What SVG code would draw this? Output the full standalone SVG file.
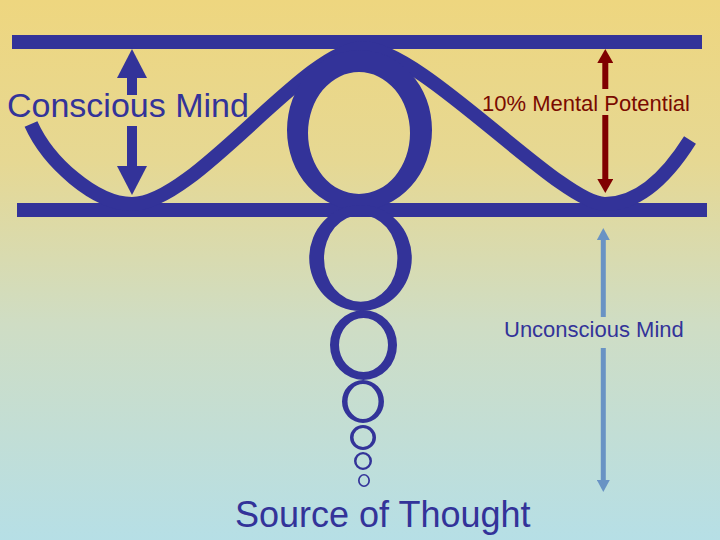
<svg xmlns="http://www.w3.org/2000/svg" width="720" height="540" viewBox="0 0 720 540">
  <defs>
    <linearGradient id="bg" x1="0" y1="0" x2="0" y2="1">
      <stop offset="0" stop-color="#EED67F"/>
      <stop offset="0.3" stop-color="#E6D893"/>
      <stop offset="0.6" stop-color="#CFDDC4"/>
      <stop offset="1" stop-color="#B6DFE6"/>
    </linearGradient>
    <marker id="headBlue" markerUnits="userSpaceOnUse" markerWidth="29" markerHeight="30" refX="0" refY="15" orient="auto" viewBox="0 0 29 30">
      <path d="M0,0 L29,15 L0,30 Z" fill="#333399"/>
    </marker>
    <marker id="headRed" markerUnits="userSpaceOnUse" markerWidth="14" markerHeight="16" refX="0" refY="8" orient="auto" viewBox="0 0 14 16">
      <path d="M0,0 L14,8 L0,16 Z" fill="#800000"/>
    </marker>
    <marker id="headLight" markerUnits="userSpaceOnUse" markerWidth="12" markerHeight="13" refX="0" refY="6.5" orient="auto" viewBox="0 0 12 13">
      <path d="M0,0 L12,6.5 L0,13 Z" fill="#6993C4"/>
    </marker>
  </defs>
  <style>
    .bar { fill: #333399; }
    .wave { fill: none; stroke: #333399; stroke-width: 14; }
    .ring { fill: #333399; fill-rule: evenodd; }
    .lbl { font-family: "Liberation Sans", Arial, sans-serif; }
    .blue { fill: #333399; }
    .red { fill: #7A0A00; }
    .aBlue { stroke: #333399; stroke-width: 10; }
    .aRed { stroke: #800000; stroke-width: 6; }
    .aLight { stroke: #6993C4; stroke-width: 5; }
  </style>

  <rect x="0" y="0" width="720" height="540" fill="url(#bg)"/>

  <g id="top-bar"><rect class="bar" x="12" y="35" width="690" height="14"/></g>
  <g id="bottom-bar"><rect class="bar" x="17" y="203" width="690" height="14"/></g>

  <g id="wave">
    <path class="wave" d="M31,124 C48,162 95,204 132,204 C195,204 305,48 363,48 C421,48 560,204 605,204 C640,204 668,175 690,140"/>
  </g>

  <g id="thought-chain">
    <path class="ring" d="M287,130 a72.5,80 0 1,0 145,0 a72.5,80 0 1,0 -145,0 Z M308,133 a51,61 0 1,0 102,0 a51,61 0 1,0 -102,0 Z"/>
    <path class="ring" d="M309.2,258 a51.3,53 0 1,0 102.6,0 a51.3,53 0 1,0 -102.6,0 Z M324,258.3 a36.7,43.4 0 1,0 73.4,0 a36.7,43.4 0 1,0 -73.4,0 Z"/>
    <path class="ring" d="M330,345 a33.5,35 0 1,0 67,0 a33.5,35 0 1,0 -67,0 Z M339,345 a24.5,27 0 1,0 49,0 a24.5,27 0 1,0 -49,0 Z"/>
    <path class="ring" d="M342,401.5 a21,21.5 0 1,0 42,0 a21,21.5 0 1,0 -42,0 Z M347.5,401.5 a15.5,17.5 0 1,0 31,0 a15.5,17.5 0 1,0 -31,0 Z"/>
    <path class="ring" d="M350,437.5 a13,12.5 0 1,0 26,0 a13,12.5 0 1,0 -26,0 Z M353.5,437.5 a9.5,9.5 0 1,0 19,0 a9.5,9.5 0 1,0 -19,0 Z"/>
    <path class="ring" d="M354,461 a9,9 0 1,0 18,0 a9,9 0 1,0 -18,0 Z M356.5,461 a6.5,6.8 0 1,0 13,0 a6.5,6.8 0 1,0 -13,0 Z"/>
    <path class="ring" d="M358,480.5 a6,6.5 0 1,0 12,0 a6,6.5 0 1,0 -12,0 Z M359.7,480.5 a4.3,5 0 1,0 8.6,0 a4.3,5 0 1,0 -8.6,0 Z"/>
  </g>

  <g id="connectors">
    <line class="aBlue" x1="132" y1="95" x2="132" y2="78" marker-end="url(#headBlue)"/>
    <line class="aBlue" x1="132" y1="126" x2="132" y2="166" marker-end="url(#headBlue)"/>
    <line class="aRed" x1="605.3" y1="89" x2="605.3" y2="63" marker-end="url(#headRed)"/>
    <line class="aRed" x1="605.3" y1="115" x2="605.3" y2="179" marker-end="url(#headRed)"/>
    <line class="aLight" x1="603.3" y1="317" x2="603.3" y2="240" marker-end="url(#headLight)"/>
    <line class="aLight" x1="603.3" y1="348" x2="603.3" y2="480" marker-end="url(#headLight)"/>
  </g>

  <g id="label-conscious"><text class="lbl blue" x="7" y="117" font-size="34">Conscious Mind</text></g>
  <g id="label-potential"><text class="lbl red" x="482" y="111" font-size="22">10% Mental Potential</text></g>
  <g id="label-unconscious"><text class="lbl blue" x="504" y="337" font-size="22">Unconscious Mind</text></g>
  <g id="label-source"><text class="lbl blue" x="235" y="527" font-size="36">Source of Thought</text></g>
</svg>
